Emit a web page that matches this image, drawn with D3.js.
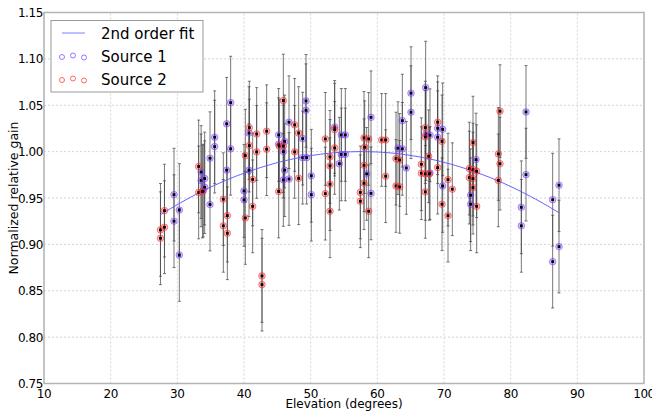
<!DOCTYPE html>
<html>
<head>
<meta charset="utf-8">
<script src="https://cdn.jsdelivr.net/npm/d3@7"></script>
<style>
  body { margin: 0; background: #fff; }
  text { font-family: "DejaVu Sans", sans-serif; }
</style>
</head>
<body>
<div id="chart"></div>
<script>
// Chart size
const width = 652;
const height = 411;

// Source 1 readings (elevation in degrees, normalized gain)
const source1Elev = [29.5, 29.5, 30.3, 30.3, 33.57, 33.57, 33.9, 34.1, 34.1, 34.9, 34.9, 35.6, 35.6,
    37.4, 37.4, 38.0, 38.0, 40.0, 40.0, 40.75, 40.75, 45.2, 45.2, 45.9, 45.9, 46.1, 46.1,
    46.75, 46.75, 48.8, 48.8, 49.3, 49.3, 49.4, 50.1, 50.1, 53.6, 54.3, 54.6, 54.6, 55.2, 55.2,
    58.4, 59.05, 59.05, 63.1, 63.75, 63.75, 64.35, 65.05, 65.05, 67.25, 67.3, 67.9, 67.9,
    69.05, 69.05, 69.8, 69.8, 74.0, 74.0, 74.8, 81.6, 81.6, 82.3, 82.3, 86.3, 86.3, 87.25, 87.25];
const source1Gain = [0.9536, 0.925, 0.937, 0.8886, 0.978, 0.969, 0.958, 0.971, 0.9616, 0.9929, 0.943, 1.0155, 1.0054,
    1.030, 0.980, 1.0528, 1.003, 0.9576, 0.948, 1.020, 0.980, 1.018, 1.008, 1.000, 0.9695, 1.011, 0.980,
    1.0317, 0.9705, 1.014, 0.9935, 1.0547, 1.0446, 0.9935, 0.974, 0.9536, 1.0266, 0.987, 1.018, 0.997, 1.018, 0.997,
    0.976, 1.037, 0.955, 1.0037, 1.0334, 1.003, 0.9824, 1.063, 1.0425, 1.069, 1.019, 1.0177, 0.977,
    1.0252, 1.0155, 1.024, 0.963, 0.953, 0.9433, 0.9914, 0.940, 0.920, 1.0428, 0.9752, 0.9482, 0.8814, 0.9638, 0.8976];

// Source 2 readings
const source2Elev = [27.47, 27.47, 28.07, 28.07, 33.2, 33.2, 33.77, 36.9, 36.9, 37.5, 37.5,
    40.2, 40.2, 40.8, 40.8, 41.3, 41.3, 41.9, 41.9, 42.7, 42.7, 43.4, 43.4, 45.2, 45.3, 45.9, 45.9,
    47.6, 47.6, 48.2, 48.2, 52.2, 52.2, 52.9, 52.9, 52.9, 52.9, 53.6, 53.6, 57.45, 57.45,
    58.0, 58.0, 58.0, 58.1, 58.7, 58.7, 60.65, 61.25, 61.25, 62.8, 62.8, 63.35, 63.35,
    66.6, 66.6, 67.2, 67.2, 67.2, 67.2, 67.7, 67.8, 69.05, 69.05, 69.7, 69.7, 70.6, 70.6, 71.25,
    73.8, 73.8, 74.35, 74.35, 74.35, 74.35, 74.9, 74.9, 78.15, 78.15, 78.4, 78.4];
const source2Gain = [0.9156, 0.9066, 0.9185, 0.9364, 0.984, 0.956, 0.957, 0.9487, 0.92, 0.931, 0.912,
    0.9957, 0.9285, 1.0259, 1.0065, 0.970, 0.941, 1.019, 0.9997, 0.866, 0.8566, 1.022, 1.0026, 0.957, 1.006, 1.055, 1.006,
    1.0288, 0.9997, 1.020, 0.9713, 1.0137, 0.9547, 0.9943, 0.9846, 0.9649, 0.9357, 1.0237, 1.004, 0.956, 0.9465,
    1.0148, 0.9853, 0.966, 1.0047, 1.0137, 0.9357, 1.0126, 1.0126, 0.9735, 0.9925, 0.963, 0.991, 0.962,
    0.9864, 0.9767, 1.0259, 1.0158, 0.976, 0.9566, 0.995, 0.976, 1.0317, 0.9828, 1.011, 0.9433, 0.9698, 0.931, 0.9595,
    0.9817, 0.972, 1.0097, 0.9806, 0.9709, 0.9612, 0.9789, 0.941, 0.9975, 0.969, 1.0436, 0.987];

// Same error on every reading
const gainError = 0.05;

// 2nd order fit: c0 + c1*x + c2*x^2, drawn over the elevation range of the data
const fitCoeffs = [0.75117, 0.00864, -0.000075];
const fitRange = [27.47, 87.25];

// Tick labels
const xTicks = [10, 20, 30, 40, 50, 60, 70, 80, 90, 100];
const yTicks = [0.75, 0.80, 0.85, 0.90, 0.95, 1.00, 1.05, 1.10, 1.15];

const svg = d3.select("#chart")
    .append("svg")
    .attr("width", width)
    .attr("height", height);

const x = d3.scaleLinear().domain([10, 100]).range([44, 644]);
const y = d3.scaleLinear().domain([0.75, 1.15]).range([383.5, 12.5]);

// Grid
const grid = svg.append("g");
grid.selectAll(".gx").data(xTicks).enter().append("line")
    .attr("x1", d => x(d)).attr("x2", d => x(d))
    .attr("y1", y(0.75)).attr("y2", y(1.15))
    .attr("stroke", "#d4d4d4").attr("stroke-dasharray", "2,2");
grid.selectAll(".gy").data(yTicks).enter().append("line")
    .attr("x1", x(10)).attr("x2", x(100))
    .attr("y1", d => y(d)).attr("y2", d => y(d))
    .attr("stroke", "#d4d4d4").attr("stroke-dasharray", "2,2");

// Build point list
const points = source1Elev.map((e, i) => ({ e, g: source1Gain[i], src: 1 }))
    .concat(source2Elev.map((e, i) => ({ e, g: source2Gain[i], src: 2 })));

// Error bars with caps
const bars = svg.append("g").attr("stroke", "#404040").attr("stroke-opacity", 0.7).attr("stroke-width", 1);
points.forEach(p => {
    const px = x(p.e);
    bars.append("line").attr("x1", px).attr("x2", px)
        .attr("y1", y(p.g - gainError)).attr("y2", y(p.g + gainError));
    [p.g - gainError, p.g + gainError].forEach(v => {
        bars.append("line").attr("x1", px - 1.5).attr("x2", px + 1.5)
            .attr("y1", y(v)).attr("y2", y(v));
    });
});

// Fit curve
const fitX = d3.range(fitRange[0], fitRange[1] + 0.001, 0.25);
const line = d3.line()
    .x(d => x(d))
    .y(d => y(fitCoeffs[0] + fitCoeffs[1] * d + fitCoeffs[2] * d * d));
svg.append("path")
    .datum(fitX)
    .attr("d", line)
    .attr("fill", "none")
    .attr("stroke", "#5a5aff")
    .attr("stroke-width", 1);

// Markers
const colors = { 1: "120,60,255", 2: "255,40,40" };
const marks = svg.append("g");
points.forEach(p => {
    marks.append("circle")
        .attr("cx", x(p.e)).attr("cy", y(p.g)).attr("r", 3.3)
        .attr("fill", `rgba(${colors[p.src]},0.3)`)
        .attr("stroke", `rgba(${colors[p.src]},0.55)`)
        .attr("stroke-width", 1);
    marks.append("rect")
        .attr("x", x(p.e) - 1.4).attr("y", y(p.g) - 1.4)
        .attr("width", 2.8).attr("height", 2.8)
        .attr("fill", "#000");
});

// Frame
svg.append("rect")
    .attr("x", x(10)).attr("y", y(1.15))
    .attr("width", x(100) - x(10)).attr("height", y(0.75) - y(1.15))
    .attr("fill", "none").attr("stroke", "#b4b4b4").attr("stroke-width", 1.5);

// Tick labels
svg.selectAll(".xt").data(xTicks).enter().append("text")
    .attr("x", d => x(d)).attr("y", 398)
    .attr("text-anchor", "middle")
    .attr("font-size", 12).attr("letter-spacing", -0.4)
    .text(d => d);
svg.selectAll(".yt").data(yTicks).enter().append("text")
    .attr("x", 43).attr("y", d => y(d) + 4.5)
    .attr("text-anchor", "end")
    .attr("font-size", 12).attr("letter-spacing", -0.4)
    .text(d => d.toFixed(2));

// Axis labels
svg.append("text")
    .attr("x", 344).attr("y", 408)
    .attr("text-anchor", "middle").attr("font-size", 12)
    .text("Elevation (degrees)");
svg.append("text")
    .attr("transform", "translate(18,198) rotate(-90)")
    .attr("text-anchor", "middle").attr("font-size", 12.5)
    .text("Normalized relative gain");

// Legend
const legend = svg.append("g");
legend.append("rect")
    .attr("x", 51).attr("y", 20.5).attr("width", 152).attr("height", 71.5)
    .attr("fill", "#fff").attr("stroke", "#999").attr("stroke-width", 1);
legend.append("line")
    .attr("x1", 62).attr("x2", 85).attr("y1", 33).attr("y2", 33)
    .attr("stroke", "#8080ff").attr("stroke-width", 1);
const legendRows = [
    { label: "2nd order fit", y: 33 },
    { label: "Source 1", y: 56, src: 1 },
    { label: "Source 2", y: 79, src: 2 }
];
legendRows.forEach(r => {
    legend.append("text")
        .attr("x", 101).attr("y", r.y + 5.5)
        .attr("font-size", 15)
        .text(r.label);
    if (r.src) {
        [[62, 1], [73, -0.5], [84, 1.5]].forEach(([cx, dy]) => {
            legend.append("circle")
                .attr("cx", cx).attr("cy", r.y + dy).attr("r", 2.5)
                .attr("fill", "none")
                .attr("stroke", `rgba(${colors[r.src]},0.7)`)
                .attr("stroke-width", 1);
        });
    }
});
</script>
</body>
</html>
